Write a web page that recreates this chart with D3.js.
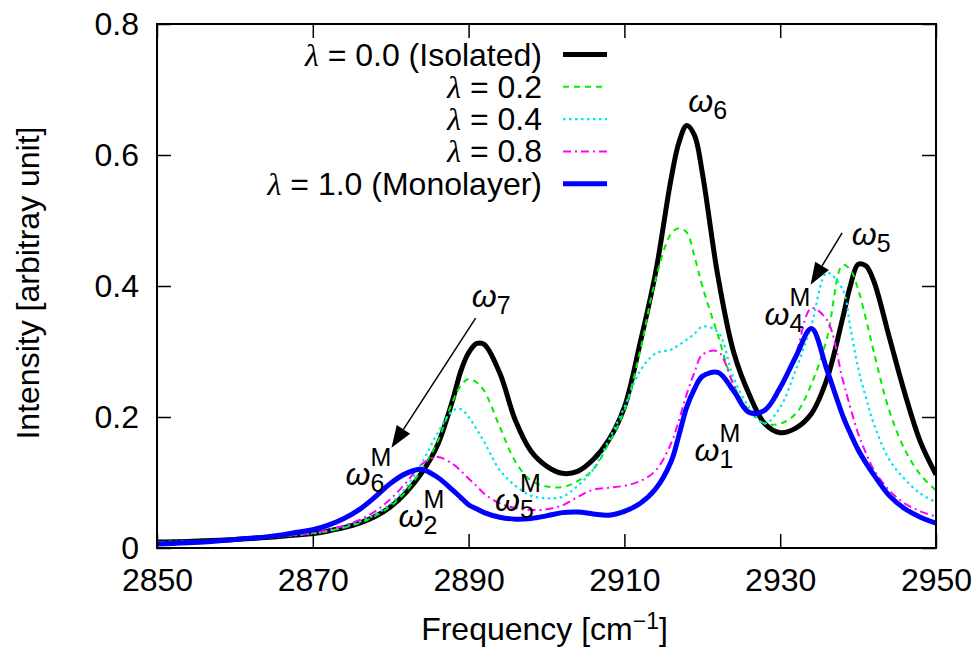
<!DOCTYPE html>
<html>
<head>
<meta charset="utf-8">
<script src="https://cdn.jsdelivr.net/npm/d3@7"></script>
<style>
  html, body { margin: 0; padding: 0; background: #fff; }
  svg { display: block; }
  text { font-family: "Liberation Sans", Arial, sans-serif; fill: #000; }
</style>
</head>
<body>
<svg id="chart" width="977" height="648"></svg>
<script>
// ---------- data ----------
const frequency = [2850, 2852, 2854, 2856, 2858, 2860, 2862, 2864, 2866, 2868, 2870, 2872, 2874, 2876,
  2878, 2880, 2882, 2884, 2886, 2888, 2889, 2890, 2891, 2892, 2894, 2896, 2898, 2900, 2902, 2904, 2906,
  2908, 2910, 2912, 2914, 2916, 2917, 2918, 2919, 2920, 2922, 2924, 2926, 2928, 2930, 2932, 2934, 2936,
  2938, 2939, 2940, 2941, 2942, 2944, 2946, 2948, 2950];

const lambda00 = [0.009, 0.0095, 0.010, 0.011, 0.012, 0.013, 0.0145, 0.016, 0.018, 0.020, 0.022, 0.026, 0.031, 0.038,
  0.048, 0.063, 0.085, 0.115, 0.157, 0.228, 0.270, 0.298, 0.312, 0.311, 0.267, 0.195, 0.148, 0.125, 0.114, 0.117, 0.135,
  0.165, 0.215, 0.312, 0.420, 0.564, 0.619, 0.645, 0.630, 0.573, 0.415, 0.300, 0.235, 0.190, 0.176, 0.183, 0.205, 0.258,
  0.350, 0.400, 0.433, 0.431, 0.408, 0.322, 0.236, 0.162, 0.112];

const lambda02 = [0.009, 0.0095, 0.010, 0.011, 0.012, 0.013, 0.0145, 0.016, 0.018, 0.020, 0.022, 0.026, 0.031, 0.038,
  0.049, 0.064, 0.087, 0.120, 0.162, 0.225, 0.248, 0.258, 0.253, 0.240, 0.185, 0.132, 0.103, 0.094, 0.093, 0.102, 0.120,
  0.160, 0.210, 0.300, 0.410, 0.480, 0.488, 0.482, 0.445, 0.400, 0.325, 0.250, 0.210, 0.190, 0.190, 0.205, 0.250, 0.320,
  0.432, 0.425, 0.395, 0.350, 0.300, 0.210, 0.150, 0.112, 0.088];

const lambda04 = [0.009, 0.0095, 0.010, 0.011, 0.012, 0.013, 0.0145, 0.016, 0.018, 0.020, 0.022, 0.026, 0.032, 0.040,
  0.051, 0.068, 0.093, 0.130, 0.175, 0.210, 0.212, 0.200, 0.182, 0.162, 0.119, 0.095, 0.080, 0.076, 0.078, 0.095, 0.120,
  0.165, 0.215, 0.270, 0.297, 0.303, 0.310, 0.318, 0.327, 0.338, 0.330, 0.260, 0.215, 0.190, 0.215, 0.272, 0.340, 0.420,
  0.395, 0.337, 0.275, 0.230, 0.190, 0.135, 0.105, 0.083, 0.070];

const lambda08 = [0.008, 0.0085, 0.009, 0.010, 0.011, 0.012, 0.014, 0.016, 0.018, 0.020, 0.023, 0.028, 0.034, 0.043,
  0.056, 0.075, 0.100, 0.128, 0.139, 0.128, 0.118, 0.106, 0.095, 0.083, 0.068, 0.061, 0.058, 0.059, 0.065, 0.078, 0.089,
  0.092, 0.095, 0.102, 0.118, 0.160, 0.195, 0.235, 0.268, 0.295, 0.300, 0.250, 0.207, 0.210, 0.240, 0.295, 0.366, 0.348,
  0.258, 0.215, 0.175, 0.145, 0.120, 0.088, 0.068, 0.056, 0.048];

const lambda10 = [0.006, 0.007, 0.008, 0.009, 0.011, 0.013, 0.015, 0.017, 0.020, 0.024, 0.028, 0.035, 0.045, 0.059,
  0.078, 0.099, 0.114, 0.120, 0.108, 0.088, 0.077, 0.066, 0.060, 0.054, 0.047, 0.044, 0.045, 0.049, 0.054, 0.055, 0.052,
  0.050, 0.056, 0.068, 0.090, 0.132, 0.172, 0.215, 0.243, 0.262, 0.268, 0.240, 0.207, 0.210, 0.245, 0.292, 0.335, 0.272,
  0.203, 0.175, 0.150, 0.130, 0.112, 0.080, 0.060, 0.047, 0.038];

const seriesNames = ["λ = 0.0 (Isolated)", "λ = 0.2", "λ = 0.4", "λ = 0.8", "λ = 1.0 (Monolayer)"];
const seriesValues = [lambda00, lambda02, lambda04, lambda08, lambda10];

const xTicks = [2850, 2870, 2890, 2910, 2930, 2950];
const yTicks = [0, 0.2, 0.4, 0.6, 0.8];

// annotation labels: [frequency, intensity, subscript, superscript]
const annotations = [
  [2918.2, 0.666, "6", ""],
  [2939.2, 0.463, "5", ""],
  [2890.4, 0.368, "7", ""],
  [2874.2, 0.096, "6", "M"],
  [2881.0, 0.032, "2", "M"],
  [2893.4, 0.056, "5", "M"],
  [2919.0, 0.133, "1", "M"],
  [2928.0, 0.340, "4", "M"]
];
// arrows: [fromFreq, fromInt, toFreq, toInt]
const arrows = [
  [2890.9, 0.351, 2880.1, 0.153],
  [2937.95, 0.481, 2933.9, 0.402]
];

// ---------- drawing ----------
(function () {
  const styles = [
    { color: "#000000", width: 5, dash: null },
    { color: "#00ee00", width: 2, dash: "6,5" },
    { color: "#00e5ee", width: 2.2, dash: "2.5,3.5" },
    { color: "#ff00ff", width: 2, dash: "8,4,2,4" },
    { color: "#0000ff", width: 5, dash: null }
  ];

  const svg = d3.select("#chart");
  const pL = 157, pR = 936, pT = 24, pB = 548;
  const fontSize = 32, smallSize = 25;

  const x = d3.scaleLinear().domain([2850, 2950]).range([pL, pR]);
  const y = d3.scaleLinear().domain([0, 0.8]).range([pB, pT]);

  svg.append("defs").append("clipPath").attr("id", "clip")
    .append("rect").attr("x", pL).attr("y", pT).attr("width", pR - pL).attr("height", pB - pT);

  const line = d3.line()
    .x((d, i) => x(frequency[i]))
    .y(d => y(d))
    .curve(d3.curveCatmullRom.alpha(0.5));

  const gCurves = svg.append("g").attr("clip-path", "url(#clip)");
  seriesValues.forEach((vals, k) => {
    const st = styles[k];
    gCurves.append("path")
      .attr("d", line(vals))
      .attr("fill", "none")
      .attr("stroke", st.color)
      .attr("stroke-width", st.width)
      .attr("stroke-linejoin", "round")
      .attr("stroke-dasharray", st.dash);
  });

  const tickLen = 14;
  const gAx = svg.append("g");
  const xAxisB = d3.axisBottom(x).tickValues(xTicks).tickSize(-tickLen).tickPadding(20).tickFormat(d3.format("d"));
  const xAxisT = d3.axisTop(x).tickValues(xTicks).tickSize(-tickLen).tickFormat("");
  const yAxisL = d3.axisLeft(y).tickValues(yTicks).tickSize(-tickLen).tickPadding(18).tickFormat(d => d === 0 ? "0" : d3.format(".1f")(d));
  const yAxisR = d3.axisRight(y).tickValues(yTicks).tickSize(-tickLen).tickFormat("");

  gAx.append("g").attr("transform", `translate(0,${pB})`).call(xAxisB);
  gAx.append("g").attr("transform", `translate(0,${pT})`).call(xAxisT);
  gAx.append("g").attr("transform", `translate(${pL},0)`).call(yAxisL);
  gAx.append("g").attr("transform", `translate(${pR},0)`).call(yAxisR);
  gAx.selectAll(".domain").remove();
  gAx.selectAll(".tick line").attr("stroke", "#000").attr("stroke-width", 1.5);
  gAx.selectAll(".tick text").attr("font-size", fontSize).attr("font-family", "Liberation Sans, Arial, sans-serif").attr("fill", "#000");

  svg.append("rect").attr("x", pL).attr("y", pT).attr("width", pR - pL).attr("height", pB - pT)
    .attr("fill", "none").attr("stroke", "#000").attr("stroke-width", 2);

  svg.append("text")
    .attr("transform", `translate(39,${(pT + pB) / 2 - 3}) rotate(-90)`)
    .attr("text-anchor", "middle").attr("font-size", fontSize)
    .text("Intensity [arbitray unit]");

  const xl = svg.append("text").attr("x", (pL + pR) / 2 - 2).attr("y", 640)
    .attr("text-anchor", "middle").attr("font-size", fontSize);
  xl.append("tspan").text("Frequency [cm");
  xl.append("tspan").attr("dy", -11).attr("font-size", 23).text("−1");
  xl.append("tspan").attr("dy", 11).text("]");

  const legRight = 542, legY0 = 54.5, legDy = 32.3;
  seriesNames.forEach((name, k) => {
    const cy = legY0 + k * legDy;
    const st = styles[k];
    const t = svg.append("text").attr("x", legRight).attr("y", cy + 11)
      .attr("text-anchor", "end").attr("font-size", fontSize);
    const parts = name.split("λ");
    t.append("tspan").attr("font-family", "Liberation Serif, serif").attr("font-style", "italic").text("λ");
    t.append("tspan").text(parts[1]);
    svg.append("line").attr("x1", 563).attr("x2", 607).attr("y1", cy).attr("y2", cy)
      .attr("stroke", st.color).attr("stroke-width", st.width).attr("stroke-dasharray", st.dash);
  });

  annotations.forEach(([f, v, sub, sup]) => {
    const px = x(f), py = y(v);
    const w = svg.append("text").attr("x", px).attr("y", py)
      .attr("font-size", fontSize).attr("font-family", "Liberation Serif, serif").attr("font-style", "italic")
      .text("ω");
    const ww = w.node().getComputedTextLength();
    svg.append("text").attr("x", px + ww).attr("y", py + 7).attr("font-size", smallSize).text(sub);
    if (sup) svg.append("text").attr("x", px + ww).attr("y", py - 19).attr("font-size", smallSize).text(sup);
  });

  arrows.forEach(([f0, v0, f1, v1]) => {
    const x0 = x(f0), y0 = y(v0), x1 = x(f1), y1 = y(v1);
    const ang = Math.atan2(y1 - y0, x1 - x0);
    const hl = 22, hw = 8;
    const bx = x1 - hl * Math.cos(ang), by = y1 - hl * Math.sin(ang);
    svg.append("line").attr("x1", x0).attr("y1", y0).attr("x2", bx).attr("y2", by)
      .attr("stroke", "#000").attr("stroke-width", 1.5);
    const p1 = [bx + hw * Math.sin(ang), by - hw * Math.cos(ang)];
    const p2 = [bx - hw * Math.sin(ang), by + hw * Math.cos(ang)];
    svg.append("path").attr("d", `M${x1},${y1}L${p1[0]},${p1[1]}L${p2[0]},${p2[1]}Z`).attr("fill", "#000");
  });
})();
</script>
</body>
</html>
